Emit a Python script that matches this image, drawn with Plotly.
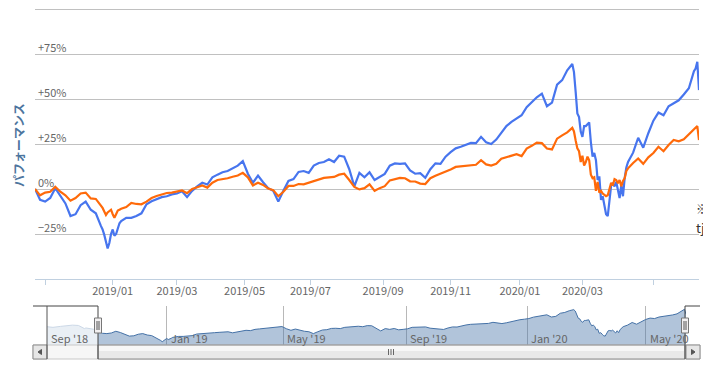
import plotly.graph_objects as go

W, H = 703, 376

# ---------------- data ----------------
dates = [
    "2018-10-24", "2018-10-29", "2018-11-01", "2018-11-06", "2018-11-09", "2018-11-14", "2018-11-19", "2018-11-22", "2018-11-28",
    "2018-12-03", "2018-12-06", "2018-12-11", "2018-12-14", "2018-12-19", "2018-12-20", "2018-12-21", "2018-12-25", "2018-12-26", "2018-12-27", "2018-12-28",
    "2019-01-04", "2019-01-07", "2019-01-08", "2019-01-09", "2019-01-10", "2019-01-11", "2019-01-17", "2019-01-22", "2019-01-25", "2019-01-30",
    "2019-02-04", "2019-02-07", "2019-02-13", "2019-02-18", "2019-02-21", "2019-02-26",
    "2019-03-01", "2019-03-06", "2019-03-11", "2019-03-14", "2019-03-19", "2019-03-25", "2019-03-28",
    "2019-04-02", "2019-04-05", "2019-04-10", "2019-04-15", "2019-04-18", "2019-04-23", "2019-04-26",
    "2019-05-09", "2019-05-14", "2019-05-17", "2019-05-22", "2019-05-27", "2019-05-30",
    "2019-06-04", "2019-06-07", "2019-06-12", "2019-06-17", "2019-06-20", "2019-06-25", "2019-06-28",
    "2019-07-03", "2019-07-08", "2019-07-11", "2019-07-17", "2019-07-22", "2019-07-25", "2019-07-30",
    "2019-08-02", "2019-08-07", "2019-08-13", "2019-08-16", "2019-08-21", "2019-08-26", "2019-08-29",
    "2019-09-03", "2019-09-06", "2019-09-11", "2019-09-17", "2019-09-20", "2019-09-26",
    "2019-10-01", "2019-10-04", "2019-10-09", "2019-10-15", "2019-10-18", "2019-10-24", "2019-10-29",
    "2019-11-01", "2019-11-07", "2019-11-12", "2019-11-15", "2019-11-20", "2019-11-25", "2019-11-28",
    "2019-12-03", "2019-12-06", "2019-12-11", "2019-12-16", "2019-12-19", "2019-12-24", "2019-12-27",
    "2020-01-07", "2020-01-10", "2020-01-16", "2020-01-21", "2020-01-24", "2020-01-29",
    "2020-02-03", "2020-02-06", "2020-02-12", "2020-02-17", "2020-02-20", "2020-02-21", "2020-02-25", "2020-02-26", "2020-02-27", "2020-02-28",
    "2020-03-02", "2020-03-03", "2020-03-04", "2020-03-05", "2020-03-06", "2020-03-09", "2020-03-10", "2020-03-11", "2020-03-12", "2020-03-13",
    "2020-03-16", "2020-03-17", "2020-03-18", "2020-03-19", "2020-03-23", "2020-03-24", "2020-03-25", "2020-03-26", "2020-03-27", "2020-03-30", "2020-03-31",
    "2020-04-01", "2020-04-02", "2020-04-03", "2020-04-06", "2020-04-07", "2020-04-08", "2020-04-09", "2020-04-14", "2020-04-17", "2020-04-22", "2020-04-27",
    "2020-05-01", "2020-05-11", "2020-05-14", "2020-05-19", "2020-05-22", "2020-05-27",
    "2020-06-01", "2020-06-04", "2020-06-09", "2020-06-10", "2020-06-11", "2020-06-12",
]

fund_pct = [
    0, -6, -7, -5, 0.5, -3.5, -8, -15, -14,
    -9, -7, -11.5, -13.5, -20.5, -22.5, -25.5, -29, -33, -30, -25,
    -22.5, -26, -25, -22, -19, -17.8, -16, -16, -15, -13.5,
    -8.5, -6.8, -5.7, -4.5, -4, -3,
    -2.5, -1.2, -4.5, -1, 1.5, 3.5, 2.5,
    6.5, 8, 9.3, 10, 11.5, 13, 15.5,
    8.5, 3.5, 7.5, 3.8, 0.5, -1,
    -7, -1, 4.5, 5.5, 9.5, 10, 9,
    13, 14.5, 15, 16.5, 15, 18.5, 18,
    11, 1.5, 9, 6.5, 9.3, 5, 6.5,
    8.4, 13, 14.2, 14, 14.3, 10.3,
    8.5, 8.8, 6.2, 11, 14.3, 14, 18,
    20.5, 22.6, 23.5, 24.6, 25.6, 25.5, 29,
    26, 25, 27.5, 31.5, 35, 37.3, 39,
    41, 45.5, 48.3, 51, 53, 46,
    48, 58, 60.5, 66, 69.5, 65, 54, 42, 40, 32,
    29, 35, 35, 36, 37, 26, 18, 20, 16, 5,
    7, -6, -4, -9, -14, -15, -7, 2, 3, 1.5, 4,
    -1.5, -5, 2, -4, 6, 12, 15, 20.2, 28.5, 23, 31,
    38, 42.5, 41, 46, 47.6, 49.3,
    52.5, 56, 65.5, 67, 70.7, 55,
]

bench_pct = [
    0, -3.5, -2, -1.5, 1.3, -1.5, -3.5, -6.5, -5,
    -2.5, -2, -5.2, -5.5, -9, -10.5, -12.5, -14.4, -13, -12, -11.5,
    -14, -16, -14, -12, -11.5, -11, -10, -7.7, -8.3, -8.5,
    -7, -5, -3.9, -3, -2.2, -2,
    -1.5, -0.8, -2.3, 0, 1, 2, 0.8,
    3.5, 5, 5.3, 6, 6.8, 7.5, 9,
    6.5, 2, 3.5, 2.3, 0.3, -0.6,
    -4, -1.5, 1.7, 1.7, 2.8, 2.6, 3.5,
    4.7, 5.6, 6.2, 6.5, 6.7, 8, 8.5,
    5, 1.2, -0.2, 0.5, 2.6, -1, 0.5,
    1.6, 4.8, 5.4, 6.2, 6, 4.3,
    4.2, 3, 2.8, 6, 7.4, 8.5, 9.5,
    10.9, 12.3, 12.6, 12.8, 12.8, 13.5, 16,
    13.7, 13, 14, 16.8, 17.8, 18.8, 19.4,
    18.3, 22.5, 24, 25.8, 25.5, 22.5,
    22, 28, 29.8, 31.5, 34, 32, 27, 22.6, 21, 15,
    18.5, 13, 15, 18, 16, 8, 6, 6.5, -1, 4,
    -2, -1, -2.5, -3.5, -4, -3.5, 0, 3.5, 2, 5.5, 5,
    3.2, 5, 1.5, 4.5, 6, 10, 11.5, 14.5, 17, 14, 17.6,
    20, 23.5, 21, 24.5, 27.3, 26.5,
    27.6, 30.5, 33.2, 34, 35, 27.2,
]

# navigator history before the zoomed window (same fund series)
nav_pre_dates = ["2018-09-03", "2018-09-07", "2018-09-14", "2018-09-21", "2018-09-28", "2018-10-04",
                 "2018-10-05", "2018-10-11", "2018-10-12", "2018-10-17", "2018-10-19", "2018-10-23"]
nav_pre_pct = [15, 13, 16, 18, 20, 19, 16, 9, 11, 10, 7, 4]

y_tick_vals = [-25, 0, 25, 50, 75]
y_tick_text = ["\u221225%", "0%", "+25%", "+50%", "+75%"]
y_grid_vals = [-50, -25, 0, 25, 50, 75, 100]

x_tick_vals = ["2018-11-01", "2019-01-04", "2019-03-01", "2019-05-07", "2019-07-01",
               "2019-09-02", "2019-11-01", "2020-01-06", "2020-03-02", "2020-05-01"]
x_tick_text = ["", "2019/01", "2019/03", "2019/05", "2019/07",
               "2019/09", "2019/11", "2020/01", "2020/03", ""]

nav_tick_vals = ["2018-09-03", "2019-01-04", "2019-05-07", "2019-09-02", "2020-01-06", "2020-05-01"]
nav_tick_text = ["Sep '18", "Jan '19", "May '19", "Sep '19", "Jan '20", "May '20"]

# Tokyo market holidays (weekdays) - the time axis is ordinal over trading days
market_holidays = [
    "2018-09-17", "2018-09-24", "2018-10-08", "2018-11-23", "2018-12-24", "2018-12-31",
    "2019-01-01", "2019-01-02", "2019-01-03", "2019-01-14", "2019-02-11", "2019-03-21",
    "2019-04-29", "2019-04-30", "2019-05-01", "2019-05-02", "2019-05-03", "2019-05-06",
    "2019-07-15", "2019-08-12", "2019-09-16", "2019-09-23", "2019-10-14", "2019-10-22",
    "2019-11-04", "2019-12-31",
    "2020-01-01", "2020-01-02", "2020-01-03", "2020-01-13", "2020-02-11", "2020-02-24",
    "2020-03-20", "2020-04-29", "2020-05-04", "2020-05-05", "2020-05-06",
]

NAV_FLOOR, NAV_CEIL = -43.4, 81.1

# ---------------- helpers ----------------
def px(x):
    return x / W


def py(y):
    return 1 - y / H


FONT = "Noto Sans CJK JP, Noto Sans, sans-serif"
LABEL = dict(family=FONT, size=11, color="#666666")
breaks = [dict(bounds=["sat", "mon"]), dict(values=market_holidays)]

fig = go.Figure()

fig.add_trace(go.Scatter(x=dates, y=fund_pct, mode="lines",
                         line=dict(color="#4775EE", width=2.2), xaxis="x", yaxis="y"))
fig.add_trace(go.Scatter(x=dates, y=bench_pct, mode="lines",
                         line=dict(color="#FF6A0A", width=2.2), xaxis="x", yaxis="y"))

# navigator
fig.add_trace(go.Scatter(x=[nav_pre_dates[0], dates[-1]], y=[NAV_FLOOR, NAV_FLOOR], mode="lines",
                         line=dict(width=0, color="rgba(0,0,0,0)"), xaxis="x2", yaxis="y2"))
fig.add_trace(go.Scatter(x=nav_pre_dates + dates, y=nav_pre_pct + fund_pct, mode="lines",
                         line=dict(color="#4572A7", width=1), fill="tonexty",
                         fillcolor="rgba(69,114,167,0.42)", xaxis="x2", yaxis="y2"))

shapes = []
NT, NB, SB = 306, 345, 359  # navigator top / bottom, scrollbar bottom
L0, R0 = 98, 685            # zoomed window edges in navigator

# mask outside the zoomed window
shapes.append(dict(type="rect", xref="paper", yref="paper", x0=px(47), x1=px(L0), y0=py(NB), y1=py(NT),
                   fillcolor="rgba(255,255,255,0.72)", line=dict(width=0), layer="above"))

# scrollbar track
shapes.append(dict(type="rect", xref="paper", yref="paper", x0=px(33), x1=px(700), y0=py(SB), y1=py(NB),
                   fillcolor="#f6f6f6", line=dict(color="#c8c8c8", width=1), layer="above"))
# thumb
shapes.append(dict(type="rect", xref="paper", yref="paper", x0=px(L0), x1=px(R0), y0=py(SB), y1=py(NB),
                   fillcolor="#e9e9e9", line=dict(color="#8c8c8c", width=1), layer="above"))
shapes.append(dict(type="rect", xref="paper", yref="paper", x0=px(L0 + 1), x1=px(R0 - 1), y0=py(NB + 6), y1=py(NB + 1),
                   fillcolor="#f7f7f7", line=dict(width=0), layer="above"))
for gx in (388.5, 391, 393.5):
    shapes.append(dict(type="line", xref="paper", yref="paper", x0=px(gx), x1=px(gx), y0=py(NB + 4), y1=py(SB - 4),
                       line=dict(color="#666666", width=1), layer="above"))
# buttons
for bx0, bx1, pts in ((33, 47, [(41.5, 349.5), (38, 352), (41.5, 354.5)]),
                      (686, 700, [(691.5, 349.5), (695, 352), (691.5, 354.5)])):
    shapes.append(dict(type="rect", xref="paper", yref="paper", x0=px(bx0), x1=px(bx1), y0=py(SB), y1=py(NB),
                       fillcolor="#e6e6e6", line=dict(color="#8c8c8c", width=1), layer="above"))
    path = "M {} {} L {} {} L {} {} Z".format(px(pts[0][0]), py(pts[0][1]), px(pts[1][0]), py(pts[1][1]),
                                              px(pts[2][0]), py(pts[2][1]))
    shapes.append(dict(type="path", xref="paper", yref="paper", path=path,
                       fillcolor="#555555", line=dict(color="#555555", width=1), layer="above"))

# navigator outline
outline = "M {} {} L {} {} L {} {} M {} {} L {} {} L {} {}".format(
    px(33), py(NT), px(L0), py(NT), px(L0), py(SB),
    px(R0), py(SB), px(R0), py(NT), px(700), py(NT))
shapes.append(dict(type="path", xref="paper", yref="paper", path=outline,
                   line=dict(color="#444444", width=1), layer="above"))
shapes.append(dict(type="line", xref="paper", yref="paper", x0=px(47), x1=px(47), y0=py(SB), y1=py(NT),
                   line=dict(color="#555555", width=1), layer="above"))

# handles
for hx in (L0, R0):
    shapes.append(dict(type="rect", xref="paper", yref="paper", x0=px(hx - 3.5), x1=px(hx + 3.5),
                       y0=py(333), y1=py(318), fillcolor="#f2f0f1", line=dict(color="#777777", width=1),
                       layer="above"))
    for gx in (hx - 1, hx + 1):
        shapes.append(dict(type="line", xref="paper", yref="paper", x0=px(gx), x1=px(gx), y0=py(330), y1=py(321),
                           line=dict(color="#555555", width=1), layer="above"))

annotations = [
    dict(text="<b>パフォーマンス</b>", xref="paper", yref="paper", x=px(18), y=py(145), showarrow=False,
         textangle=-90, font=dict(family=FONT, size=12, color="#4d759e"), xanchor="center", yanchor="middle"),
    dict(text="※", xref="paper", yref="paper", x=px(694), y=py(208), showarrow=False,
         font=dict(family=FONT, size=12, color="#333333"), xanchor="left", yanchor="middle"),
    dict(text="tj", xref="paper", yref="paper", x=px(694), y=py(227), showarrow=False,
         font=dict(family=FONT, size=13, color="#333333"), xanchor="left", yanchor="middle"),
]
# y labels placed just above their grid lines, inside the plot
for tv, tt in zip(y_tick_vals, y_tick_text):
    annotations.append(dict(text=tt, xref="paper", yref="y", x=px(36), y=tv, showarrow=False,
                            xanchor="left", yanchor="bottom", yshift=-3, font=LABEL))
# navigator axis labels (drawn above the navigator mask)
for tv, tt in zip(nav_tick_vals, nav_tick_text):
    annotations.append(dict(text=tt, xref="x2", yref="paper", x=tv, y=py(337.5), showarrow=False,
                            xanchor="left", yanchor="middle", xshift=2, font=LABEL))

fig.update_layout(
    width=W, height=H, autosize=False,
    margin=dict(l=0, r=0, t=0, b=0),
    paper_bgcolor="white", plot_bgcolor="white",
    showlegend=False, hovermode=False,
    font=dict(family=FONT),
    xaxis=dict(domain=[px(35), px(699)], anchor="y", range=[dates[0], dates[-1]], rangebreaks=breaks,
               tickmode="array", tickvals=x_tick_vals, ticktext=x_tick_text,
               ticks="outside", ticklen=5, tickcolor="#C0D0E0", showline=True, linecolor="#C0D0E0",
               ticklabelstandoff=-3,
               showgrid=False, zeroline=False, tickfont=LABEL, fixedrange=True),
    yaxis=dict(domain=[py(279), py(8)], anchor="x", range=[-50, 100.6],
               tickmode="array", tickvals=y_grid_vals, showticklabels=False,
               ticks="", showline=False, zeroline=False,
               showgrid=True, gridcolor="#C0C0C0", gridwidth=1, fixedrange=True),
    xaxis2=dict(domain=[px(47), px(686)], anchor="y2", range=[nav_pre_dates[0], dates[-1]], rangebreaks=breaks,
                tickmode="array", tickvals=nav_tick_vals, showticklabels=False,
                ticks="", showline=False, zeroline=False,
                showgrid=True, gridcolor="#B8B8B8", gridwidth=1, fixedrange=True),
    yaxis2=dict(domain=[py(NB), py(NT)], anchor="x2", range=[NAV_FLOOR, NAV_CEIL],
                showgrid=False, zeroline=False, showticklabels=False, ticks="", fixedrange=True),
    shapes=shapes,
    annotations=annotations,
)

fig.write_html("out.html", config={"displayModeBar": False},
               post_script="document.body.style.margin='0';document.body.style.padding='0';")
